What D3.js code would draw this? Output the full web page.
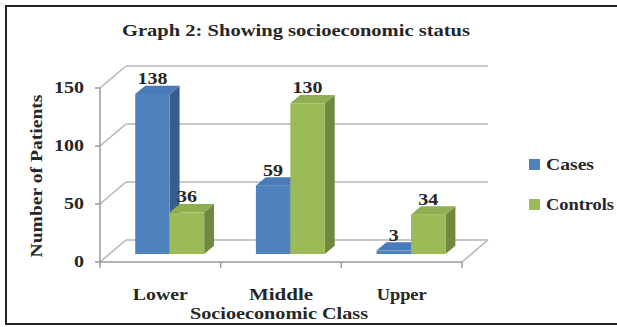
<!DOCTYPE html>
<html>
<head>
<meta charset="utf-8">
<script src="https://cdn.jsdelivr.net/npm/d3@7"></script>
<style>
  html, body { margin: 0; padding: 0; background: #fff; }
</style>
</head>
<body>
<svg id="chart" width="617" height="327"></svg>
<script>
// Socioeconomic status of cases and controls
const categories = ["Lower", "Middle", "Upper"];
const seriesNames = ["Cases", "Controls"];
const cases = [138, 59, 3];
const controls = [36, 130, 34];
const yTicks = [0, 50, 100, 150];

const series = [
  { name: seriesNames[0], values: cases, front: "#4F81BD", top: "#4A7BB8", side: "#385D8A" },
  { name: seriesNames[1], values: controls, front: "#9BBB59", top: "#8EAE50", side: "#71893F" }
];

const FONT = "'Liberation Serif', 'DejaVu Serif', 'Times New Roman', serif";
const svg = d3.select("#chart");

// text helper: bold serif, stretched to a given advance width
function label(sel, str, width, size) {
  const t = sel.append("text").attr("font-family", FONT).attr("font-weight", "bold")
    .attr("font-size", size || 16).attr("fill", "#262626").text(str);
  if (width) t.attr("textLength", width).attr("lengthAdjust", "spacingAndGlyphs");
  return t;
}

// outer frame
svg.append("rect").attr("x", 6).attr("y", 6).attr("width", 700).attr("height", 318)
  .attr("fill", "none").attr("stroke", "#222").attr("stroke-width", 2);

// front plane geometry and oblique depth vector
const x0 = 100, x1 = 462, yFloor = 262;
const depth = { dx: 26, dy: -22 };
const off = f => [depth.dx * f, depth.dy * f];

const x = d3.scaleBand().domain(categories).range([x0, x1]);
const y = d3.scaleLinear().domain([0, 150]).range([yFloor, yFloor - 174]);

const grid = svg.append("g").attr("stroke", "#B4B4B4").attr("stroke-width", 1.5).attr("fill", "none");
const [bx, by] = off(1);

// back wall gridlines and left wall diagonals
yTicks.forEach(t => {
  grid.append("line").attr("x1", x0 + bx).attr("x2", x1 + bx)
    .attr("y1", y(t) + by).attr("y2", y(t) + by);
  grid.append("line").attr("x1", x0).attr("x2", x0 + bx)
    .attr("y1", y(t)).attr("y2", y(t) + by);
});
// floor right edge
grid.append("line").attr("x1", x1).attr("x2", x1 + bx).attr("y1", yFloor).attr("y2", yFloor + by);

// bars
const fFront = 0.36, fBack = 0.74;
const gap = 1.5;
const barW = x.bandwidth() / (series.length + gap);
const bars = svg.append("g");
categories.forEach((c, i) => {
  series.forEach((s, j) => {
    const v = s.values[i];
    const [fx, fy] = off(fFront);
    const [kx, ky] = off(fBack);
    const left = x(c) + barW * (gap / 2 + j) + fx;
    const right = left + barW;
    const base = y(0) + fy;
    const topY = y(v) + fy;
    const ddx = kx - fx, ddy = ky - fy;
    // side face
    bars.append("path").attr("fill", s.side)
      .attr("d", `M${right},${base}L${right + ddx},${base + ddy}L${right + ddx},${topY + ddy}L${right},${topY}Z`);
    // top face
    bars.append("path").attr("fill", s.top)
      .attr("d", `M${left},${topY}L${left + ddx},${topY + ddy}L${right + ddx},${topY + ddy}L${right},${topY}Z`);
    // front face
    bars.append("rect").attr("x", left).attr("y", topY).attr("width", barW).attr("height", base - topY)
      .attr("fill", s.front);
    // value label
    const str = String(v);
    label(bars, str, str.length * 10).attr("x", left + barW / 2).attr("y", topY - 10)
      .attr("text-anchor", "middle");
  });
});

// front axes
const ax = svg.append("g").attr("stroke", "#9A9A9A").attr("stroke-width", 1.5);
ax.append("line").attr("x1", x0).attr("x2", x0).attr("y1", y(0)).attr("y2", y(150));
ax.append("line").attr("x1", x0).attr("x2", x1).attr("y1", yFloor).attr("y2", yFloor);
yTicks.forEach(t => ax.append("line").attr("x1", x0 - 5).attr("x2", x0).attr("y1", y(t)).attr("y2", y(t)));
[x0, ...categories.map(c => x(c) + x.bandwidth())].forEach(p =>
  ax.append("line").attr("x1", p).attr("x2", p).attr("y1", yFloor).attr("y2", yFloor + 6));

// y tick labels
const yl = svg.append("g");
yTicks.forEach(t => {
  const str = String(t);
  label(yl, str, str.length * 10).attr("x", 84).attr("y", y(t) + 5).attr("text-anchor", "end");
});

// category labels
const catWidths = [55, 64, 50];
const cl = svg.append("g");
categories.forEach((c, i) => {
  label(cl, c, catWidths[i]).attr("x", x(c) + x.bandwidth() / 2).attr("y", 300).attr("text-anchor", "middle");
});

// axis titles
label(svg, "Socioeconomic Class", 178).attr("x", 279).attr("y", 319).attr("text-anchor", "middle");
label(svg, "Number of Patients", 163).attr("transform", "translate(42,176) rotate(-90)")
  .attr("text-anchor", "middle");

// title
label(svg, "Graph 2: Showing socioeconomic status", 348).attr("x", 296).attr("y", 36)
  .attr("text-anchor", "middle");

// legend
const lg = svg.append("g").attr("transform", "translate(529,159)");
const legendWidths = [48, 68];
series.forEach((s, j) => {
  const g = lg.append("g").attr("transform", `translate(0,${j * 40})`);
  g.append("rect").attr("width", 11).attr("height", 11).attr("fill", s.front);
  label(g, s.name, legendWidths[j]).attr("x", 17).attr("y", 11);
});
</script>
</body>
</html>
